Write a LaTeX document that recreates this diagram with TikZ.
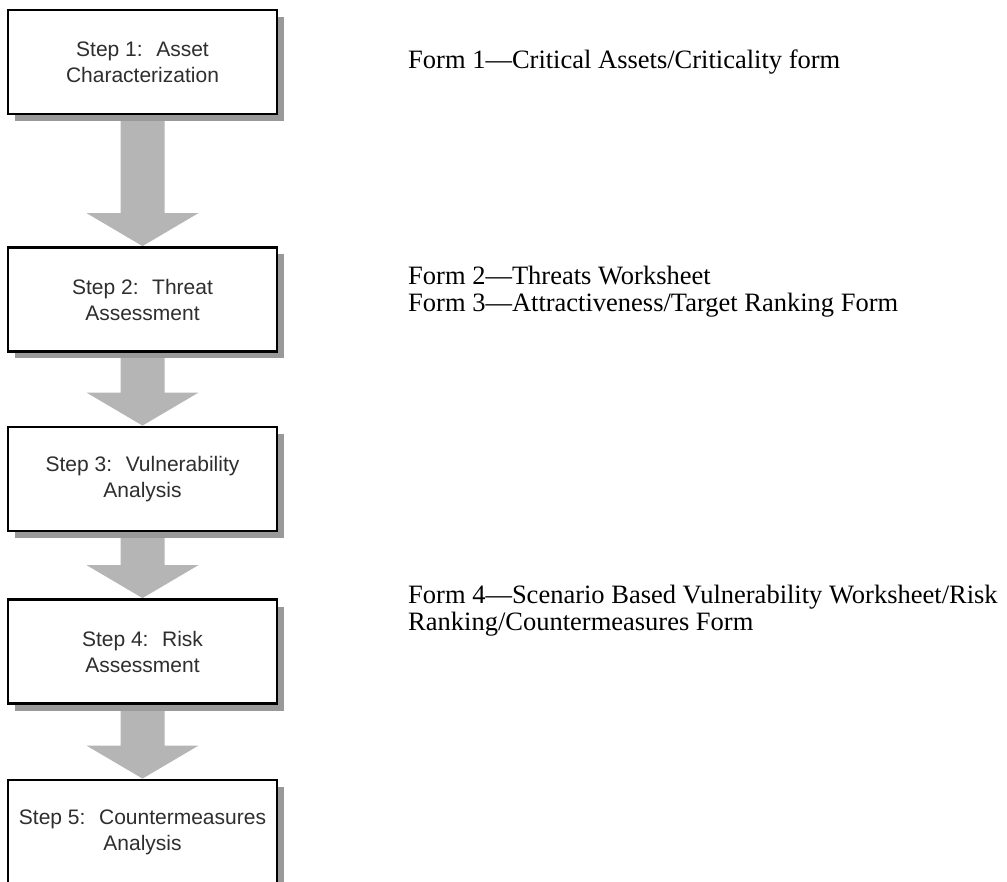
\documentclass[tikz,border=0pt]{standalone}
\usepackage{fontspec}
\setmainfont{Liberation Serif}
\newfontfamily\boxfont{Liberation Sans}
\usetikzlibrary{shadows,calc,backgrounds}
\begin{document}
\begin{tikzpicture}[x=1pt,y=-1pt,
  stepbox/.style={draw=black, line width=2.8pt, fill=white,
    minimum width=269pt, minimum height=104pt, inner sep=0pt, align=center,
    font=\boxfont\fontsize{21}{26}\selectfont, text=black!82,
    drop shadow={shadow xshift=7pt, shadow yshift=-7pt, fill=black!40, opacity=1}},
  formtext/.style={anchor=west, inner sep=0pt, align=left,
    font=\fontsize{26.5}{27}\selectfont, text=black},
  blockarrow/.style={fill=black!29, draw=none}]
\useasboundingbox (0,0) rectangle (1007,882);
\clip (0,0) rectangle (1007,882);
\node[stepbox] (s1) at (142.5,62) {Step 1:~ Asset\\Characterization};
\node[stepbox] (s2) at (142.5,299.5) {Step 2:~ Threat\\Assessment};
\node[stepbox] (s3) at (142.5,479) {Step 3:~ Vulnerability\\Analysis};
\node[stepbox] (s4) at (142.5,651.5) {Step 4:~ Risk\\Assessment};
\node[stepbox] (s5) at (142.5,832) {Step 5:~ Countermeasures\\Analysis};
\begin{scope}[on background layer]
\foreach \a/\b in {s1/s2,s2/s3,s3/s4,s4/s5}
  \fill[blockarrow] ($(\a.south)+(-22,0)$) -- ($(\b.north)+(-22,-33)$)
    -- ($(\b.north)+(-56,-33)$) -- (\b.north) -- ($(\b.north)+(56,-33)$)
    -- ($(\b.north)+(22,-33)$) -- ($(\a.south)+(22,0)$) -- cycle;
\end{scope}
\node[formtext] (f1) at (408,62) {Form 1---Critical Assets/Criticality form};
\node[formtext] (f23) at (408,292) {Form 2---Threats Worksheet\\Form 3---Attractiveness/Target Ranking Form};
\node[formtext] (f4) at (408,611) {Form 4---Scenario Based Vulnerability Worksheet/Risk\\Ranking/Countermeasures Form};
\end{tikzpicture}
\end{document}
